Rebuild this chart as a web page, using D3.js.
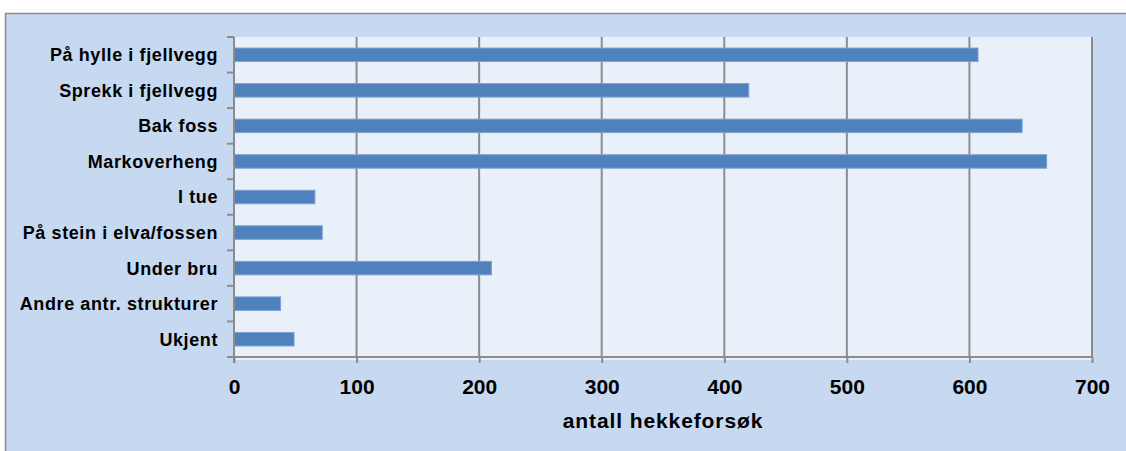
<!DOCTYPE html>
<html>
<head>
<meta charset="utf-8">
<script src="https://cdn.jsdelivr.net/npm/d3@7"></script>
<style>
  body { margin: 0; background: #ffffff; }
  svg text { font-family: "Liberation Sans", Arial, sans-serif; font-weight: bold; fill: #000; }
</style>
</head>
<body>
<script>
// Hekkeplassering - data
const categories = [
  'På hylle i fjellvegg',
  'Sprekk i fjellvegg',
  'Bak foss',
  'Markoverheng',
  'I tue',
  'På stein i elva/fossen',
  'Under bru',
  'Andre antr. strukturer',
  'Ukjent'
];
const values = [607, 420, 643, 663, 66, 72, 210, 38, 49];
const xTicks = [0, 100, 200, 300, 400, 500, 600, 700];
const xTitle = 'antall hekkeforsøk';

const svgWidth = 1126;
const svgHeight = 451;
const plot = { left: 234, right: 1092, top: 37, bottom: 357 };

const svg = d3.select('body')
  .append('svg')
  .attr('width', svgWidth)
  .attr('height', svgHeight);

// outer chart area
svg.append('rect')
  .attr('x', 5.5)
  .attr('y', 13.5)
  .attr('width', svgWidth + 10)
  .attr('height', svgHeight + 10)
  .attr('fill', '#c6d9f1')
  .attr('stroke', '#8c8c8c')
  .attr('stroke-width', 1.5);

// plot area
svg.append('rect')
  .attr('x', plot.left)
  .attr('y', plot.top)
  .attr('width', plot.right - plot.left)
  .attr('height', plot.bottom - plot.top + 3)
  .attr('fill', '#eaf0fa');

const x = d3.scaleLinear()
  .domain([0, 700])
  .range([plot.left, plot.right]);

const y = d3.scaleBand()
  .domain(categories)
  .range([plot.top, plot.bottom])
  .paddingInner(0.62)
  .paddingOuter(0.31);

// vertical gridlines
svg.append('g')
  .selectAll('line')
  .data(xTicks.slice(1))
  .enter()
  .append('line')
  .attr('x1', d => x(d))
  .attr('x2', d => x(d))
  .attr('y1', plot.top)
  .attr('y2', plot.bottom)
  .attr('stroke', '#8c8c8c')
  .attr('stroke-width', 2);

// bars
svg.append('g')
  .selectAll('rect')
  .data(values)
  .enter()
  .append('rect')
  .attr('x', x(0))
  .attr('y', (d, i) => y(categories[i]))
  .attr('width', d => x(d) - x(0))
  .attr('height', y.bandwidth())
  .attr('fill', '#4f81bd')
  .attr('stroke', '#7ea3d2')
  .attr('stroke-width', 1);

// x axis
const xAxis = svg.append('g')
  .attr('transform', `translate(0, ${plot.bottom})`)
  .call(d3.axisBottom(x).tickValues(xTicks).tickSize(6).tickPadding(16));
xAxis.select('.domain')
  .attr('d', `M${plot.left - 7},0H${plot.right}`)
  .attr('stroke', '#8c8c8c')
  .attr('stroke-width', 2);
xAxis.selectAll('.tick line').attr('stroke', '#8c8c8c').attr('stroke-width', 2);
xAxis.selectAll('.tick text')
  .attr('font-size', 21)
  .style('font-family', '"Liberation Sans", Arial, sans-serif')
  .style('font-weight', 'bold');

// y axis: tick marks sit on band boundaries
const yAxis = svg.append('g')
  .attr('transform', `translate(${plot.left}, 0)`);
yAxis.append('line')
  .attr('y1', plot.top)
  .attr('y2', plot.bottom + 6)
  .attr('stroke', '#8c8c8c')
  .attr('stroke-width', 2);
const bounds = d3.range(categories.length + 1).map(i => plot.top + i * y.step());
yAxis.selectAll('.ytick')
  .data(bounds)
  .enter()
  .append('line')
  .attr('x1', -7)
  .attr('x2', 0)
  .attr('y1', d => d)
  .attr('y2', d => d)
  .attr('stroke', '#8c8c8c')
  .attr('stroke-width', 2);
yAxis.selectAll('.ylabel')
  .data(categories)
  .enter()
  .append('text')
  .attr('x', -16)
  .attr('y', d => y(d) + y.bandwidth() / 2)
  .attr('dy', '0.36em')
  .attr('text-anchor', 'end')
  .attr('font-size', 18)
  .attr('letter-spacing', 0.6)
  .text(d => d);

// axis title
svg.append('text')
  .attr('x', (plot.left + plot.right) / 2)
  .attr('y', 428)
  .attr('text-anchor', 'middle')
  .attr('font-size', 21)
  .attr('letter-spacing', 0.9)
  .text(xTitle);
</script>
</body>
</html>
